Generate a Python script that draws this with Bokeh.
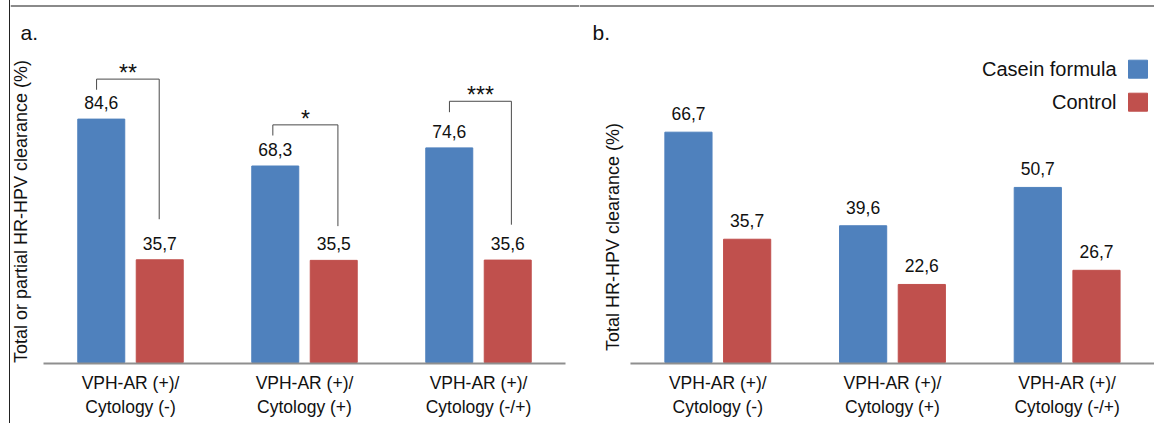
import numpy as np
from bokeh.plotting import figure
from bokeh.layouts import row
from bokeh.models import Range1d, FixedTicker, ColumnDataSource
from bokeh.core.properties import value
from bokeh.embed import file_html
from bokeh.resources import INLINE

# ---------------- data ----------------
categories = ["VPH-AR (+)/\nCytology (-)", "VPH-AR (+)/\nCytology (+)", "VPH-AR (+)/\nCytology (-/+)"]
series = ["Casein formula", "Control"]
a_casein = [84.6, 68.3, 74.6]
a_control = [35.7, 35.5, 35.6]
b_casein = [66.7, 39.6, 50.7]
b_control = [35.7, 22.6, 26.7]
a_stars = ["**", "*", "***"]
a_ylabel = "Total or partial HR-HPV clearance (%)"
b_ylabel = "Total HR-HPV clearance (%)"
panel_tags = ["a.", "b."]

# ---------------- style ----------------
FONT = value("Liberation Sans")
BLUE = "#4F81BD"
RED = "#C0504D"
TXT = "#111111"
H = 423
BASE = 362.0          # pixel row of value 0
FRAME_BOTTOM = 366.0  # pixel row of the frame bottom
TOP = 0.0


def fmt(v):
    return f"{v:.1f}".replace(".", ",")


def make_panel(x0, width, cat_c, per_cat, per_unit, casein, control, tag, ylabel,
               ylabel_pos, label_off):
    xc = lambda px: (px - cat_c) / per_cat
    yc = lambda py: (BASE - py) / per_unit
    p = figure(width=width, height=H,
               x_range=Range1d(xc(x0), xc(x0 + width)),
               y_range=Range1d(yc(FRAME_BOTTOM), yc(TOP)),
               output_backend="svg", toolbar_location=None,
               y_axis_location=None,
               min_border_left=0, min_border_right=0, min_border_top=0,
               min_border_bottom=int(H - (FRAME_BOTTOM - TOP)))
    p.outline_line_color = None
    p.grid.visible = False
    p.background_fill_color = "white"
    p.border_fill_color = "white"

    idx = np.arange(len(categories))
    src = ColumnDataSource(dict(
        xb=idx - 0.168, xr=idx + 0.168,
        casein=casein, control=control,
        lc=[fmt(v) for v in casein], lr=[fmt(v) for v in control]))
    p.vbar(x="xb", top="casein", bottom=0, width=0.27, source=src,
           fill_color=BLUE, line_color=BLUE)
    p.vbar(x="xr", top="control", bottom=0, width=0.27, source=src,
           fill_color=RED, line_color=RED)
    for xcol, ycol, lcol in (("xb", "casein", "lc"), ("xr", "control", "lr")):
        p.text(x=xcol, y=ycol, text=lcol, source=src, y_offset=-label_off,
               text_align="center", text_baseline="middle",
               text_font=FONT, text_font_size="17.5px", text_color=TXT)

    # baseline (category axis line)
    p.segment(x0=[-0.5], y0=[yc(363)], x1=[len(categories) - 0.5], y1=[yc(363)],
              line_color="#8f8f8f", line_width=2)
    # top frame line
    p.segment(x0=[xc(x0)], y0=[yc(5.5)], x1=[xc(x0 + width)], y1=[yc(5.5)],
              line_color="#8a8a8a", line_width=2)

    # x axis tick labels
    ax = p.xaxis[0]
    ax.ticker = FixedTicker(ticks=list(idx))
    ax.major_label_overrides = {int(i): c for i, c in zip(idx, categories)}
    ax.axis_line_color = None
    ax.major_tick_line_color = None
    ax.minor_tick_line_color = None
    ax.major_tick_out = 0
    ax.major_tick_in = 0
    ax.major_label_standoff = 6
    ax.major_label_text_font = "Liberation Sans"
    ax.major_label_text_font_size = "17.5px"
    ax.major_label_text_color = TXT

    # y title
    p.text(x=[xc(ylabel_pos[0])], y=[yc(ylabel_pos[1])], text=[ylabel],
           angle=np.pi / 2, text_align="center", text_baseline="middle",
           text_font=FONT, text_font_size="18px", text_color=TXT)
    # panel tag
    p.text(x=[xc(tag[1])], y=[yc(31.7)], text=[tag[0]],
           text_align="left", text_baseline="alphabetic",
           text_font=FONT, text_font_size="21px", text_color=TXT)
    return p, xc, yc


# ---------------- panel a ----------------
pa, xa, ya = make_panel(10, 570, 130.0, 174.0, 2.877, a_casein, a_control,
                        (panel_tags[0], 20), a_ylabel, (20, 211), 16.6)
pa.styles = {"margin-left": "9px", "border-left": "1px solid #222222"}

br_left = [-0.195, -0.182, -0.167]
br_right = [0.165, 0.192, 0.189]
br_top = [98.5, 82.6, 90.8]
br_lbot = [94.8, 78.9, 87.0]
br_rbot = [49.8, 47.4, 47.9]
idx = np.arange(len(categories))
xs, ys, sx, sy = [], [], [], []
for i in idx:
    l, r = i + br_left[i], i + br_right[i]
    xs.append([l, l, r, r])
    ys.append([br_lbot[i], br_top[i], br_top[i], br_rbot[i]])
    sx.append((l + r) / 2)
    sy.append(br_top[i])
pa.multi_line(xs=xs, ys=ys, line_color="#4a4a4a", line_width=1)
pa.text(x=sx, y=sy, text=a_stars, y_offset=-6, text_align="center",
        text_baseline="middle", text_font=FONT, text_font_size="23px",
        text_color=TXT)

# ---------------- panel b ----------------
pb, xbv, ybv = make_panel(580, 575, 718.3, 174.67, 3.453, b_casein, b_control,
                          (panel_tags[1], 593), b_ylabel, (613.5, 236.5), 18.5)

# legend (text left of swatch)
ly = [ybv(68.7), ybv(101.7)]
pb.rect(x=[xbv(1138.5)] * 2, y=ly, width=19, height=18,
        width_units="screen", height_units="screen",
        fill_color=[BLUE, RED], line_color=[BLUE, RED])
pb.text(x=[xbv(1117)] * 2, y=ly, text=series, text_align="right",
        text_baseline="middle", text_font=FONT, text_font_size="20px",
        text_color=TXT)

layout = row(pa, pb)
open("out.html", "w").write(file_html(layout, INLINE))
